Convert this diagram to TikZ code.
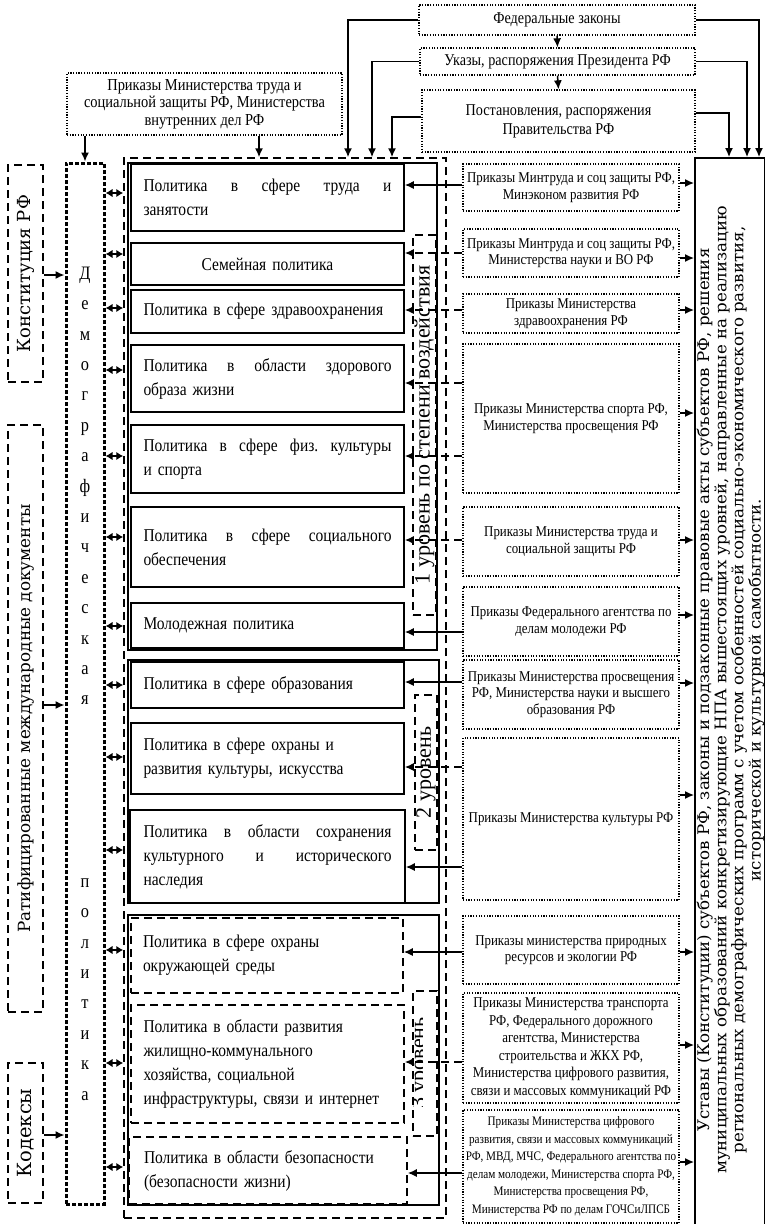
\documentclass[tikz,border=0pt]{standalone}
\usepackage{graphicx}
\usepackage{fontspec}
\setmainfont{Liberation Serif}[FakeStretch=0.86]
\newfontfamily\plainserif{Liberation Serif}
\newfontfamily\wideserif{DejaVu Serif}
\newfontfamily\ustavfont{DejaVu Serif}[FakeStretch=1.04]
\usetikzlibrary{arrows.meta}
\newcommand\jl[1]{\makebox[248pt][s]{\frenchspacing\spaceskip=0pt\xspaceskip=0pt #1}}
\tikzset{
  arr/.style={line width=1.5pt, -{Latex[length=9pt,width=8pt]}},
  darr/.style={line width=1.5pt, {Latex[length=7pt,width=8.5pt]}-{Latex[length=7pt,width=8.5pt]}},
  dashl/.style={dash pattern=on 8pt off 5pt},
  dotbox/.style={draw, line width=1.3pt, dash pattern=on 1.2pt off 1.5pt, inner sep=0pt, align=center},
  dashbox/.style={draw, line width=1.5pt, dash pattern=on 8pt off 5pt, inner sep=0pt},
  pbox/.style={draw, line width=1.5pt, inner sep=0pt, minimum width=273pt, text width=248pt, align=left, font=\fontsize{18}{24}\selectfont},
  pdbox/.style={pbox, dash pattern=on 8pt off 5pt},
  grp/.style={draw, line width=1.5pt, inner sep=0pt},
  mbox/.style={dotbox, minimum width=216pt, font=\fontsize{15}{16.5}\selectfont},
  topbox/.style={dotbox, font=\fontsize{16.5}{19}\selectfont},
  sidebox/.style={dashbox, minimum width=35pt, font=\wideserif\fontsize{18}{22}\selectfont},
  lvl/.style={dashbox, font=\plainserif\fontsize{22}{24}\selectfont},
}
\begin{document}
\begin{tikzpicture}[x=1pt,y=-1pt]
\useasboundingbox (0,0) rectangle (765,1224);
\clip (0,0) rectangle (765,1224);

% ---------- top boxes
\node[topbox, minimum width=276pt, minimum height=30pt] (fed) at (557,20) {Федеральные законы};
\node[topbox, minimum width=275pt, minimum height=27pt] (ukaz) at (557.5,61.5) {Указы, распоряжения Президента РФ};
\node[topbox, minimum width=273pt, minimum height=62pt] (post) at (558.5,121) {Постановления, распоряжения\\Правительства РФ};
\node[dotbox, minimum width=275pt, minimum height=62pt, font=\fontsize{16.8}{17.5}\selectfont] (mtop) at (204.5,104) {Приказы Министерства труда и\\социальной защиты РФ, Министерства\\внутренних дел РФ};

% ---------- left column
\node[sidebox, minimum height=217pt] (konst) at (25.5,273.5) {\rotatebox{90}{Конституция РФ}};
\node[sidebox, minimum height=587pt, font=\wideserif\fontsize{16.8}{22}\selectfont] (ratif) at (25.5,718.5) {\rotatebox{90}{Ратифицированные международные документы}};
\node[sidebox, minimum height=140pt, font=\wideserif\fontsize{19.5}{22}\selectfont] (kodeks) at (25.5,1133) {\rotatebox{90}{Кодексы}};

\node[draw, line width=3pt, dash pattern=on 4pt off 2pt, minimum width=38pt, minimum height=1041pt, inner sep=0pt, align=center, font=\fontsize{19}{30.4}\selectfont] (demo) at (85,683.5)
 {Д\\е\\м\\о\\г\\р\\а\\ф\\и\\ч\\е\\с\\к\\а\\я\\[152pt]п\\о\\л\\и\\т\\и\\к\\а};

% ---------- big dashed frame and groups
\node[dashbox, minimum width=322pt, minimum height=1060pt] (big) at (285,688) {};
\node[grp, minimum width=309pt, minimum height=487pt] (g1) at (282.5,406.5) {};
\node[grp, minimum width=311pt, minimum height=243pt] (g2) at (283.5,781.5) {};
\node[grp, minimum width=311pt, minimum height=290pt] (g3) at (283.5,1060) {};

% ---------- policy boxes
\node[pbox, minimum height=67pt] (p1) at (267.5,197.5) {\jl{Политика в сфере труда и}\\занятости};
\node[pbox, minimum height=42pt, align=center] (p2) at (267.5,264) {Семейная политика};
\node[pbox, minimum height=43pt] (p3) at (267.5,311.5) {Политика в сфере здравоохранения};
\node[pbox, minimum height=67pt] (p4) at (267.5,378.5) {\jl{Политика в области здорового}\\образа жизни};
\node[pbox, minimum height=68pt] (p5) at (267.5,459) {\jl{Политика в сфере физ. культуры}\\и спорта};
\node[pbox, minimum height=80pt] (p6) at (267.5,547) {\jl{Политика в сфере социального}\\обеспечения};
\node[pbox, minimum height=45pt] (p7) at (267.5,625.5) {Молодежная политика};
\node[pbox, minimum height=46pt] (p8) at (267.5,685) {Политика в сфере образования};
\node[pbox, minimum height=71pt] (p9) at (267.5,758.5) {Политика в сфере охраны и\\развития культуры, искусства};
\node[pbox, minimum height=93pt, minimum width=275pt] (p10) at (267.5,856.5) {\jl{Политика в области сохранения}\\\jl{культурного и исторического}\\наследия};
\node[pdbox, minimum height=75pt, minimum width=272pt] (p11) at (267,955.5) {Политика в сфере охраны\\окружающей среды};
\node[pdbox, minimum height=118pt] (p12) at (267.5,1064) {Политика в области развития\\жилищно-коммунального\\хозяйства, социальной\\инфраструктуры, связи и интернет};
\node[pdbox, minimum height=67pt, minimum width=278pt] (p13) at (268,1170.5) {Политика в области безопасности\\(безопасности жизни)};

% ---------- level boxes
\node[lvl, minimum width=23pt, minimum height=380pt] (L1) at (424.5,425) {\rotatebox{90}{1 уровень по степени воздействия}};
\node[lvl, minimum width=22pt, minimum height=155pt] (L2) at (426,772.5) {\rotatebox{90}{2 уровень}};
\node[lvl, minimum width=24pt, minimum height=145pt] (L3) at (425,1063.5) {};
\begin{scope}
  \clip (413,991) rectangle (422,1136);
  \node[rotate=90, anchor=base, inner sep=0pt, font=\plainserif\fontsize{22}{24}\selectfont] (L3t) at (425,1063) {3 уровень};
\end{scope}

% ---------- middle column
\node[mbox, minimum height=47pt] (m1) at (571,187.5) {Приказы Минтруда и соц защиты РФ,\\Минэконом развития РФ};
\node[mbox, minimum height=48pt] (m2) at (571,253) {Приказы Минтруда и соц защиты РФ,\\Министерства науки и ВО РФ};
\node[mbox, minimum height=39pt] (m3) at (571,313.5) {Приказы Министерства\\здравоохранения РФ};
\node[mbox, minimum height=149pt] (m4) at (571,418.5) {Приказы Министерства спорта РФ,\\Министерства просвещения РФ};
\node[mbox, minimum height=69pt] (m5) at (571,541.5) {Приказы Министерства труда и\\социальной защиты РФ};
\node[mbox, minimum height=69pt] (m6) at (571,621.5) {Приказы Федерального агентства по\\делам молодежи РФ};
\node[mbox, minimum height=69pt] (m7) at (571,694.5) {Приказы Министерства просвещения\\РФ, Министерства науки и высшего\\образования РФ};
\node[mbox, minimum height=162pt] (m8) at (571,819) {Приказы Министерства культуры РФ};
\node[mbox, minimum height=68pt] (m9) at (571,950) {Приказы министерства природных\\ресурсов и экологии РФ};
\node[mbox, minimum height=110pt, font=\fontsize{15}{17.5}\selectfont] (m10) at (571,1048) {Приказы Министерства транспорта\\РФ, Федерального дорожного\\агентства, Министерства\\строительства и ЖКХ РФ,\\Министерства цифрового развития,\\связи и массовых коммуникаций РФ};
\node[mbox, minimum height=113pt, font=\fontsize{13}{17.5}\selectfont] (m11) at (571,1166.5) {Приказы Министерства цифрового\\развития, связи и массовых коммуникаций\\РФ, МВД, МЧС, Федерального агентства по\\делам молодежи, Министерства спорта РФ,\\Министерства просвещения РФ,\\Министерства РФ по делам ГОЧСиЛПСБ};

% ---------- right box
\node[draw, line width=1.8pt, minimum width=70pt, minimum height=1072pt, inner sep=0pt] (ustav) at (730,694) {};
\node[inner sep=0pt, font=\ustavfont\fontsize{16}{15.6}\selectfont] (ustavtext) at (731,690)
 {\rotatebox{90}{\begin{tabular}{@{}c@{}}
 Уставы (Конституции) субъектов РФ, законы и подзаконные правовые акты субъектов РФ, решения\\
 муниципальных образований конкретизирующие НПА вышестоящих уровней, направленные на реализацию\\
 региональных демографических программ с учетом особенностей социально-экономического развития,\\
 исторической и культурной самобытности.\end{tabular}}};

% ---------- connectors: top
\draw[arr] (fed.south) -- (ukaz.north);
\draw[arr] (ukaz.south) -- (post.north);
\draw[arr] (fed.west) -| (big.north -| 348,0);
\draw[arr] (ukaz.west) -| (big.north -| 372,0);
\draw[arr] (post.west |- 0,117) -| (big.north -| 392,0);
\draw[arr] (fed.east) -| (ustav.north -| 759,0);
\draw[arr] (ukaz.east) -| (ustav.north -| 747,0);
\draw[arr] (post.east |- 0,113) -| (ustav.north -| 729,0);
\draw[arr] (mtop.south -| demo.north) -- (demo.north);
\draw[arr] (mtop.south -| 259,0) -- (big.north -| 259,0);

% ---------- left arrows
\draw[arr] (konst.east |- 0,275) -- (demo.west |- 0,275);
\draw[arr] (ratif.east |- 0,705) -- (demo.west |- 0,705);
\draw[arr] (kodeks.east |- 0,1135) -- (demo.west |- 0,1135);
\foreach \y in {193,254,308,370,456,537,626,685,757,850,950,1063,1167}
  \draw[darr] (demo.east |- 0,\y) -- (big.west |- 0,\y);

% ---------- middle to policies
\draw[arr] (m1.west |- 0,185) -- (p1.east |- 0,185);
\draw[arr,dashl] (m2.west |- 0,253) -- (p2.east |- 0,253);
\draw[arr,dashl] (m3.west |- 0,310) -- (p3.east |- 0,310);
\draw[arr,dashl] (m4.west |- 0,383) -- (p4.east |- 0,383);
\draw[arr,dashl] (m4.west |- 0,456) -- (p5.east |- 0,456);
\draw[arr,dashl] (m5.west |- 0,540) -- (p6.east |- 0,540);
\draw[arr] (m6.west |- 0,632) -- (p7.east |- 0,632);
\draw[arr] (m7.west |- 0,682) -- (p8.east |- 0,682);
\draw[arr,dashl] (m8.west |- 0,767) -- (p9.east |- 0,767);
\draw[arr] (m8.west |- 0,867) -- (p10.east |- 0,867);
\draw[arr] (m9.west |- 0,952) -- (p11.east |- 0,952);
\draw[arr,dashl] (m10.west |- 0,1062) -- (p12.east |- 0,1062);
\draw[arr] (m11.west |- 0,1173) -- (p13.east |- 0,1173);

% ---------- middle to right box
\foreach \m/\y in {m1/183,m2/258,m3/310,m4/413,m5/540,m6/615,m7/683,m8/795,m9/952,m10/1045,m11/1162}
  \draw[arr] (\m.east |- 0,\y) -- (ustav.west |- 0,\y);
\end{tikzpicture}
\end{document}
